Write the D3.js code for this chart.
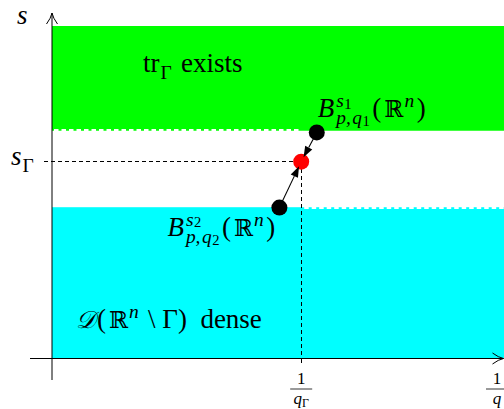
<!DOCTYPE html>
<html>
<head>
<meta charset="utf-8">
<script src="https://cdn.jsdelivr.net/npm/d3@7"></script>
<style>
  body { margin: 0; background: #fff; }
  text { font-family: "Liberation Serif", "DejaVu Serif", serif; fill: #000; }
</style>
</head>
<body>
<script>
// regions in (1/q, s) units
var regionNames = ['trace', 'dense'];
var regionX0 = [0, 0];
var regionX1 = [1.016, 1.016];
var regionS0 = [0.685, 0];
var regionS1 = [1, 0.455];
var regionColors = ['#00ff00', '#00ffff'];

// critical values
var qGammaInv = 0.56;
var sGamma = 0.592;

// the three spaces
var pointNames = ['B1', 'B2', 'crit'];
var pointX = [0.595, 0.511, 0.56];
var pointS = [0.68, 0.454, 0.592];
var pointColors = ['#000', '#000', '#ff0000'];

// x tick labels (fractions 1/q_*)
var tickValues = [0.56, 1];
var tickSubs = ['Γ', ''];

var w = 504;
var h = 409;
var fs = 27;
var nb = '\u00a0';

var svg = d3.select('body').append('svg')
  .attr('width', w)
  .attr('height', h);

var x = d3.scaleLinear().domain([0, 1]).range([52, 497]);
var y = d3.scaleLinear().domain([0, 1]).range([358.5, 26]);

// regions
var regions = d3.range(regionNames.length);
svg.selectAll('.region').data(regions).enter().append('rect')
  .attr('class', 'region')
  .attr('x', i => x(regionX0[i]))
  .attr('width', i => x(regionX1[i]) - x(regionX0[i]))
  .attr('y', i => y(regionS1[i]))
  .attr('height', i => y(regionS0[i]) - y(regionS1[i]))
  .attr('fill', i => regionColors[i]);

// open boundaries: white dashes
svg.append('line')
  .attr('x1', x(0) + 2).attr('x2', x(qGammaInv))
  .attr('y1', y(regionS0[0]) - 0.8).attr('y2', y(regionS0[0]) - 0.8)
  .attr('stroke', '#fff').attr('stroke-width', 2)
  .attr('stroke-dasharray', '4.5,3');
svg.append('line')
  .attr('x1', x(qGammaInv) + 3).attr('x2', x(regionX1[1]))
  .attr('y1', y(regionS1[1]) + 0.8).attr('y2', y(regionS1[1]) + 0.8)
  .attr('stroke', '#fff').attr('stroke-width', 2)
  .attr('stroke-dasharray', '4.5,3');

// dashed guides
svg.append('line')
  .attr('x1', x(0) - 8).attr('x2', x(qGammaInv))
  .attr('y1', y(sGamma)).attr('y2', y(sGamma))
  .attr('stroke', '#000').attr('stroke-width', 1)
  .attr('shape-rendering', 'crispEdges')
  .attr('stroke-dasharray', '4,3');
svg.append('line')
  .attr('x1', x(qGammaInv)).attr('x2', x(qGammaInv))
  .attr('y1', y(sGamma)).attr('y2', y(0))
  .attr('stroke', '#000').attr('stroke-width', 1)
  .attr('shape-rendering', 'crispEdges')
  .attr('stroke-dasharray', '4,3');

// axes
var xAxis = svg.append('g')
  .attr('transform', 'translate(0,' + y(0) + ')')
  .call(d3.axisBottom(x).tickValues([qGammaInv]).tickSize(4).tickFormat(''));
xAxis.select('.domain').remove();
xAxis.selectAll('line').attr('stroke-width', 1).attr('shape-rendering', 'crispEdges');

var chevron = (g, px, py, angle) => {
  g.append('path')
    .attr('d', 'M-11,-5.5Q-5,-1 0,0Q-5,1 -11,5.5')
    .attr('transform', 'translate(' + px + ',' + py + ') rotate(' + angle + ')')
    .attr('fill', 'none').attr('stroke', '#000').attr('stroke-width', 1);
};

svg.append('line')
  .attr('x1', 30).attr('x2', w - 0.5)
  .attr('y1', y(0)).attr('y2', y(0))
  .attr('stroke', '#000').attr('stroke-width', 1);
chevron(svg, w - 0.5, y(0), 0);

svg.append('line')
  .attr('x1', x(0)).attr('x2', x(0))
  .attr('y1', 380).attr('y2', 13)
  .attr('stroke', '#000').attr('stroke-width', 1);
chevron(svg, x(0), 13, -90);

// line between the spaces, arrows towards the critical point
var cx = x(pointX[2]), cy = y(pointS[2]);
svg.append('circle').attr('cx', cx).attr('cy', cy).attr('r', 8).attr('fill', pointColors[2]);
[0, 1].forEach(i => {
  var px = x(pointX[i]), py = y(pointS[i]);
  var dx = cx - px, dy = cy - py;
  var len = Math.sqrt(dx * dx + dy * dy);
  var ux = dx / len, uy = dy / len;
  var tx = cx - ux * 5, ty = cy - uy * 5;
  var bx = tx - ux * 11, by = ty - uy * 11;
  svg.append('circle').attr('cx', px).attr('cy', py).attr('r', 8).attr('fill', pointColors[i]);
  svg.append('line')
    .attr('x1', px).attr('y1', py)
    .attr('x2', bx).attr('y2', by)
    .attr('stroke', '#000').attr('stroke-width', 1.1);
  svg.append('path')
    .attr('d', 'M' + tx + ',' + ty +
      'L' + (bx - uy * 4) + ',' + (by + ux * 4) +
      'L' + (bx + uy * 4) + ',' + (by - ux * 4) + 'Z')
    .attr('fill', '#000');
});

// math-ish text helper
var run = (g, x0, y0, items, size) => {
  var px = x0;
  items.forEach(it => {
    var s = size * (it.s || 1);
    var t = g.append('text')
      .attr('x', px).attr('y', y0 + (it.dy || 0) * size)
      .attr('font-size', s)
      .attr('font-style', it.i ? 'italic' : 'normal')
      .text(it.t);
    if (it.f) t.style('font-family', it.f);
    px += t.node().getComputedTextLength() + (it.sp || 0);
  });
  return px - x0;
};

var drawMath = (x0, y0, pieces, size) => {
  var g = svg.append('g');
  var px = x0;
  pieces.forEach(p => {
    if (p.sup || p.sub) {
      var wd = 0;
      if (p.sup) wd = Math.max(wd, run(g, px, y0 - size * 0.37, p.sup, size * 0.72));
      if (p.sub) wd = Math.max(wd, run(g, px, y0 + size * 0.26, p.sub, size * 0.72));
      px += wd + 2.5;
    } else {
      px += run(g, px, y0, [p], size) + (p.sp || 0);
    }
  });
  return g;
};

var Rn = [
  { t: '(', sp: 1.5 },
  { t: 'ℝ', f: 'DejaVu Serif', s: 0.85, sp: 0.5 },
  { sup: [{ t: 'n', i: true }] },
  { t: ')' }
];

var bLabel = k => [
  { t: 'B', i: true, sp: 1 },
  { sup: [{ t: 's', i: true, sp: 0.5 }, { t: k, s: 0.75, dy: 0.1 }],
    sub: [{ t: 'p,', i: true, sp: 1.5 }, { t: 'q', i: true, sp: 0.5 }, { t: k, s: 0.75, dy: 0.1 }] }
].concat(Rn);

// axis labels
drawMath(17, 24, [{ t: 's', i: true }], fs);
drawMath(11, 165, [{ t: 's', i: true, sp: 0.5 }, { sub: [{ t: 'Γ' }] }], fs);

// region labels
drawMath(143, 72, [{ t: 'tr', sp: 0.5 }, { sub: [{ t: 'Γ' }] }, { t: nb + 'exists' }], fs);
drawMath(76, 328, [{ t: '𝒟', i: true, s: 0.9, sp: 1 }].concat(Rn.slice(0, 3))
  .concat([{ t: nb + '\\' + nb + 'Γ)' + nb + nb + 'dense' }]), fs);

// space labels
drawMath(x(pointX[0]) + 1, y(pointS[0]) - 15, bLabel('1'), fs);
drawMath(x(pointX[1]) - 112, y(pointS[1]) + 28, bLabel('2'), fs);

// x tick labels as fractions
tickValues.forEach((v, i) => {
  var tx = x(v);
  var g = svg.append('g');
  g.append('text').attr('x', tx).attr('y', 384).attr('text-anchor', 'middle')
    .attr('font-size', 17).text('1');
  g.append('line').attr('x1', tx - 11).attr('x2', tx + 11)
    .attr('y1', 389).attr('y2', 389).attr('stroke', '#000').attr('stroke-width', 0.8);
  var q = g.append('text').attr('x', tx).attr('y', 404).attr('text-anchor', 'middle')
    .attr('font-size', 17);
  q.append('tspan').attr('font-style', 'italic').text('q');
  if (tickSubs[i]) q.append('tspan').attr('font-size', 12).attr('dy', 3).text(tickSubs[i]);
});
</script>
</body>
</html>
